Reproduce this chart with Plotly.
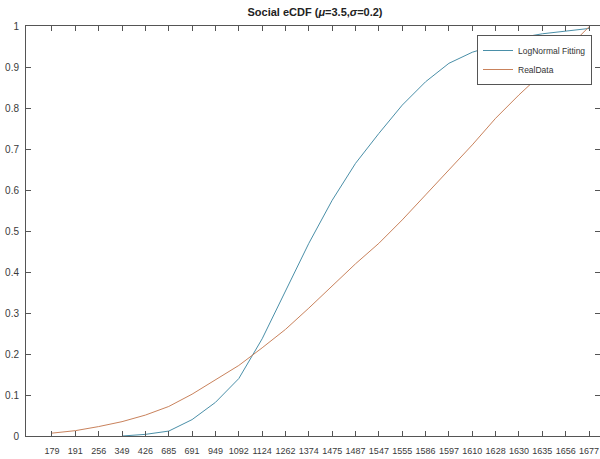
import plotly.graph_objects as go

categories = ["179", "191", "256", "349", "426", "685", "691", "949", "1092", "1124",
              "1262", "1374", "1475", "1487", "1547", "1555", "1586", "1597", "1610",
              "1628", "1630", "1635", "1656", "1677"]

lognormal_fit = [None, None, None, 0.0, 0.004, 0.012, 0.040, 0.082, 0.140, 0.237,
                 0.353, 0.470, 0.575, 0.665, 0.738, 0.807, 0.864, 0.909, 0.936,
                 0.954, 0.971, 0.981, 0.988, 0.994]

real_data = [0.007, 0.013, 0.023, 0.035, 0.051, 0.072, 0.102, 0.138, 0.172, 0.215,
             0.260, 0.312, 0.365, 0.420, 0.470, 0.527, 0.588, 0.649, 0.710,
             0.775, 0.832, 0.885, 0.941, 0.998]

y_ticks = [0, 0.1, 0.2, 0.3, 0.4, 0.5, 0.6, 0.7, 0.8, 0.9, 1]
y_ticktext = ["0", "0.1", "0.2", "0.3", "0.4", "0.5", "0.6", "0.7", "0.8", "0.9", "1"]

idx = list(range(len(categories)))

FONT = "Liberation Sans, Arial, sans-serif"

fig = go.Figure()
fig.add_trace(go.Scatter(x=idx, y=lognormal_fit, mode="lines", name="LogNormal Fitting",
                         line=dict(color="#4a8fa8", width=1)))
fig.add_trace(go.Scatter(x=idx, y=real_data, mode="lines", name="RealData",
                         line=dict(color="#c9825c", width=1)))

W, H = 600, 459
ml, mr, mt, mb = 26, 0, 26, 23
fig.update_layout(
    width=W, height=H,
    margin=dict(l=ml, r=mr, t=mt, b=mb, pad=0, autoexpand=False),
    paper_bgcolor="white", plot_bgcolor="white",
    font=dict(family=FONT, size=10, color="#3a3a3a"),
    title=dict(text="<b>Social eCDF (<i>μ</i>=3.5,<i>σ</i>=0.2)</b>",
               x=315 / W, xanchor="center",
               y=1 - 12 / H, yanchor="middle",
               font=dict(family=FONT, size=11, color="#222222")),
    showlegend=True,
    legend=dict(x=(592 - ml) / (W - ml - mr), xanchor="right",
                y=1 - (35 - mt) / (H - mt - mb), yanchor="top",
                bgcolor="white", bordercolor="#555555", borderwidth=1,
                font=dict(family=FONT, size=8.5, color="#333333"),
                tracegroupgap=0, itemwidth=30),
)
fig.update_xaxes(
    range=[-1.113, 23.47], tickmode="array", tickvals=idx, ticktext=categories,
    tickfont=dict(size=9),
    ticks="inside", ticklen=5, tickcolor="#555555", tickwidth=1,
    showline=True, linecolor="#555555", linewidth=1, mirror="ticks",
    showgrid=False, zeroline=False, tickangle=0, ticklabelstandoff=6,
    automargin=False,
)
fig.update_yaxes(
    range=[0, 1], tickmode="array", tickvals=y_ticks, ticktext=y_ticktext,
    tickfont=dict(size=10),
    ticks="inside", ticklen=5, tickcolor="#555555", tickwidth=1,
    showline=True, linecolor="#555555", linewidth=1, mirror="ticks",
    showgrid=False, zeroline=False, ticklabelstandoff=4,
    automargin=False,
)

fig.write_html("out.html", config={"displayModeBar": False},
               post_script="document.body.style.margin='0';document.body.style.overflow='hidden';")
